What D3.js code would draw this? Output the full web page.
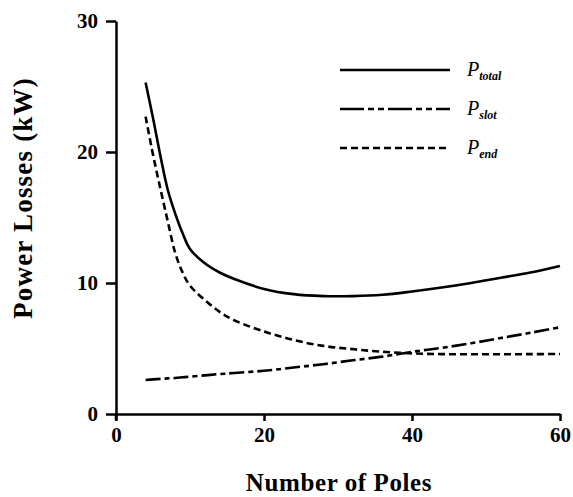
<!DOCTYPE html>
<html>
<head>
<meta charset="utf-8">
<script src="https://cdn.jsdelivr.net/npm/d3@7"></script>
<style>
  body { margin: 0; background: #fff; }
  svg text { font-family: "Liberation Serif", "DejaVu Serif", serif; font-weight: bold; fill: #000; }
</style>
</head>
<body>
<div id="viz"></div>
<script>

// values (kW) at each number of poles
var poles  = [4, 5, 6, 7, 8, 9, 10, 12, 14, 16, 20, 24, 28, 32, 36, 40, 44, 48, 52, 56, 60];
var pTotal = [25.3, 22.6, 19.7, 17.1, 15.3, 13.8, 12.6, 11.5, 10.8, 10.3, 9.55, 9.15, 9.0, 9.0, 9.1, 9.35, 9.65, 10.0, 10.4, 10.8, 11.3];
var pSlot  = [2.6, 2.64, 2.68, 2.72, 2.75, 2.8, 2.85, 2.95, 3.05, 3.13, 3.3, 3.55, 3.8, 4.1, 4.38, 4.75, 5.05, 5.4, 5.8, 6.2, 6.62];
var pEnd   = [22.7, 19.8, 17.2, 14.7, 12.3, 10.8, 9.8, 8.7, 7.8, 7.15, 6.3, 5.65, 5.2, 4.95, 4.75, 4.63, 4.57, 4.56, 4.56, 4.57, 4.58];

var xTicks = [0, 20, 40, 60];
var yTicks = [0, 10, 20, 30];

var seriesNames = ["total", "slot", "end"];
var seriesDash  = ["none", "15,4,5,4", "7,4"];

var margin = {top: 21, right: 13, bottom: 83, left: 116},
  width = 573 - margin.left - margin.right,
  height = 497 - margin.top - margin.bottom;

var svg = d3.select("#viz").append("svg")
  .attr("width", 573)
  .attr("height", 497)
.append("g")
  .attr("transform", "translate(" + margin.left + "," + margin.top + ")");

var x = d3.scaleLinear().domain([0, 60]).range([0, width]);
var y = d3.scaleLinear().domain([0, 30]).range([height, 0]);

// axes
var xAxis = svg.append("g")
  .attr("transform", "translate(0," + height + ")")
  .call(d3.axisBottom(x).tickValues(xTicks).tickSize(7).tickSizeOuter(0).tickPadding(6));

var yAxis = svg.append("g")
  .call(d3.axisLeft(y).tickValues(yTicks).tickSize(10).tickSizeOuter(0).tickPadding(8));

[xAxis, yAxis].forEach(function(a){
  a.select(".domain").attr("stroke-width", 2.5);
  a.selectAll(".tick line").attr("stroke-width", 2.5);
  a.selectAll(".tick text").style("font-size", "21px");
});

// y axis runs a bit below zero, like the original
svg.append("line")
  .attr("x1", 0).attr("x2", 0)
  .attr("y1", height).attr("y2", height + 6)
  .attr("stroke", "#000").attr("stroke-width", 2.5);

svg.append("text")
  .attr("x", width / 2 + 1)
  .attr("y", height + 77)
  .attr("text-anchor", "middle")
  .style("font-size", "25px")
  .style("letter-spacing", "0.6px")
  .text("Number of Poles");

svg.append("text")
  .attr("transform", "translate(" + (-84) + "," + 177 + ") rotate(-90)")
  .attr("text-anchor", "middle")
  .style("font-size", "27px")
  .style("letter-spacing", "1.2px")
  .text("Power Losses (kW)");

// curves
var data = [pTotal, pSlot, pEnd];

var line = d3.line()
  .x(function(d, i){ return x(poles[i]) })
  .y(function(d){ return y(d) })
  .curve(d3.curveCatmullRom);

svg.selectAll(".curve")
  .data(data)
  .enter()
.append("path")
  .attr("class", "curve")
  .attr("d", line)
  .attr("fill", "none")
  .attr("stroke", "#000")
  .attr("stroke-width", 2.6)
  .attr("stroke-dasharray", function(d, i){ return seriesDash[i] });

// legend
var legend = svg.selectAll(".legend")
  .data(seriesNames)
  .enter()
.append("g")
  .attr("class", "legend")
  .attr("transform", function(d, i){ return "translate(" + (224) + "," + (49 + i * 39) + ")" });

legend.append("line")
  .attr("x1", 0).attr("x2", 110)
  .attr("stroke", "#000")
  .attr("stroke-width", 2.6)
  .attr("stroke-dasharray", function(d, i){ return i == 1 ? "24,4,6,4,6,4" : seriesDash[i] });

var lab = legend.append("text")
  .attr("x", 127)
  .attr("y", 6)
  .style("font-style", "italic")
  .style("font-weight", "normal")
  .style("font-size", "20px");

lab.append("tspan").text("P");
lab.append("tspan")
  .attr("dy", 4)
  .style("font-size", "12px")
  .style("font-weight", "bold")
  .text(function(d){ return d });

</script>
</body>
</html>
